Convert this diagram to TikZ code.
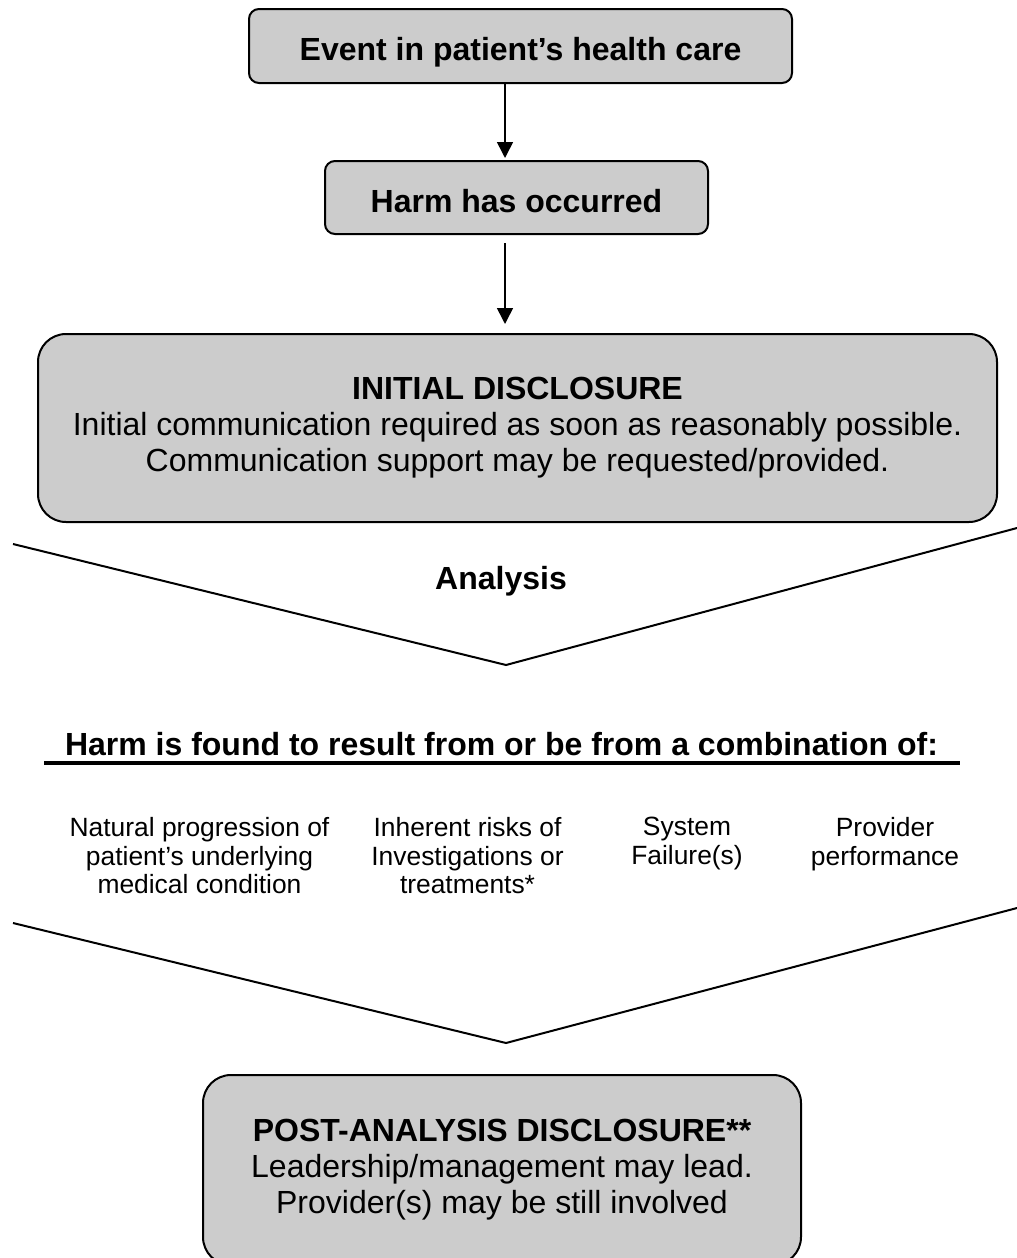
\documentclass[tikz,border=0pt]{standalone}
\usepackage{fontspec}
\setmainfont{Liberation Sans}
\definecolor{dcFill}{HTML}{CCCCCC}
\definecolor{dcLine}{HTML}{000000}
\usetikzlibrary{arrows.meta}

\begin{document}
\begin{tikzpicture}[
  x=0.5pt, y=-0.5pt,
  boxbase/.style={draw=dcLine, line width=1pt, fill=dcFill, align=center,
    inner sep=0pt, font=\fontsize{16}{18}\selectfont},
  stepbox/.style={boxbase, rounded corners=5pt, text height=14.5pt, text depth=0pt,
    font=\fontsize{16}{18}\selectfont\bfseries},
  discbox/.style={boxbase, rounded corners=14pt},
  cause/.style={align=center, inner sep=0pt, anchor=north,
    font=\fontsize{13.2}{14.25}\selectfont},
  title/.style={anchor=base, inner sep=0pt, font=\fontsize{16}{18}\selectfont\bfseries},
  arr/.style={-{Triangle[length=8pt, width=8pt]}, line width=0.8pt, color=dcLine},
  chev/.style={line width=1pt, color=dcLine}
]
  \useasboundingbox (0,0) rectangle (1017,1258);

  \node[stepbox, minimum width=271.5pt, minimum height=37pt] (event) at (520.5,46)
    {Event in patient’s health care};
  \node[stepbox, minimum width=191.5pt, minimum height=36.5pt] (harm) at (516.5,197.5)
    {Harm has occurred};
  \node[discbox, minimum width=479.5pt, minimum height=94pt] (initial) at (517.5,428) {
    \textbf{INITIAL DISCLOSURE}\\
    Initial communication required as soon as reasonably possible.\\
    Communication support may be requested/provided.
  };

  \coordinate (ax) at (505,0);
  \draw[arr, shorten >=1pt] (event.south -| ax) -- (harm.north -| ax);
  \draw[arr, shorten <=4pt, shorten >=4.5pt] (harm.south -| ax) -- (initial.north -| ax);

  % analysis chevron
  \draw[chev] (13,544) -- (506,665) -- (1017,528);
  \node[title] (analysis) at (501,589) {Analysis};

  \node[title] (found) at (501.5,755)
    {Harm is found to result from or be from a combination of:};
  \draw[line width=1.6pt] (44,763) -- (960,763);

  \node[cause] (natural) at (199.5,817) {Natural progression of\\patient’s underlying\\medical condition};
  \node[cause] (inherent) at (467.5,817) {Inherent risks of\\Investigations or\\treatments*};
  \node[cause] (system) at (687,817) {System\\Failure(s)};
  \node[cause] (provider) at (885,817) {Provider\\performance};

  % second chevron
  \draw[chev] (13,923) -- (506,1043) -- (1017,908);

  \node[discbox, minimum width=299pt, minimum height=95pt] (post) at (502,1170) {
    \textbf{POST-ANALYSIS DISCLOSURE**}\\
    Leadership/management may lead.\\
    Provider(s) may be still involved
  };
\end{tikzpicture}
\end{document}
